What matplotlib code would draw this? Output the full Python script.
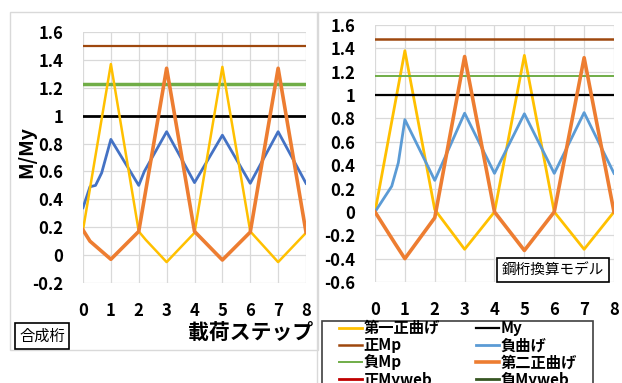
import matplotlib.pyplot as plt
from matplotlib.patches import Rectangle

plt.rcParams['font.family'] = ['Noto Sans CJK JP', 'DejaVu Sans']

# ---- data: left panel (合成桁) ----
steps = [0, 8]

L_y1_x = [0, 1, 2, 2.25, 3, 4, 5, 6, 7, 8]
L_y1 = [0.18, 1.37, 0.17, 0.11, -0.05, 0.16, 1.35, 0.17, -0.05, 0.16]      # 第一正曲げ
L_y2_x = [0, 0.25, 1, 2, 3, 4, 5, 6, 7, 8]
L_y2 = [0.18, 0.10, -0.03, 0.17, 1.34, 0.17, -0.035, 0.165, 1.34, 0.165]  # 第二正曲げ
L_neg_x = [0, 0.25, 0.45, 0.67, 1, 2, 2.2, 3, 4, 5, 6, 7, 8]
L_neg = [0.34, 0.49, 0.50, 0.59, 0.83, 0.50, 0.60, 0.885, 0.52, 0.86, 0.515, 0.885, 0.515]  # 負曲げ
L_My = [1.0, 1.0]
L_posMp = [1.5, 1.5]
L_negMp = [1.225, 1.225]

# ---- data: right panel (鋼桁換算モデル) ----
R_y1_x = [0, 1, 2, 3, 4, 5, 6, 7, 8]
R_y1 = [0, 1.38, 0.02, -0.32, 0, 1.34, 0, -0.32, 0]
R_y2_x = [0, 0.67, 1, 2, 3, 4, 5, 6, 7, 8]
R_y2 = [0, -0.27, -0.40, -0.05, 1.33, 0, -0.33, 0, 1.32, 0]
R_neg_x = [0, 0.56, 0.78, 1, 2, 3, 4, 5, 6, 7, 8]
R_neg = [0, 0.22, 0.42, 0.79, 0.27, 0.845, 0.33, 0.84, 0.33, 0.85, 0.33]
R_My = [1.0, 1.0]
R_posMp = [1.478, 1.478]
R_negMp = [1.164, 1.164]

xticks = list(range(0, 9))

C_Y1 = "#FFC000"
C_Y2 = "#ED7D31"
C_NEG_L = "#4472C4"
C_NEG_R = "#5B9BD5"
C_PMP = "#9E480E"
C_NMP = "#70AD47"
C_PWEB = "#C00000"
C_NWEB = "#375623"

W, H = 622, 383
fig = plt.figure(figsize=(W / 100, H / 100), dpi=100)


def px_axes(x0, x1, ytop, ybot):
    return fig.add_axes([x0 / W, 1 - ybot / H, (x1 - x0) / W, (ybot - ytop) / H])


def style(ax, ylim, yticks):
    ax.set_xlim(0, 8)
    ax.set_ylim(*ylim)
    ax.set_xticks(xticks)
    ax.set_yticks(yticks)
    ax.set_yticklabels([f"{t:g}" for t in yticks])
    ax.grid(True, color="#d9d9d9", lw=0.9)
    ax.set_axisbelow(True)
    for s in ax.spines.values():
        s.set_visible(False)
    ax.tick_params(length=0, labelsize=12)
    ax.tick_params(axis="x", pad=14)
    ax.tick_params(axis="y", pad=14)
    for lab in ax.get_xticklabels() + ax.get_yticklabels():
        lab.set_fontweight("bold")


# outer frames
fig.patches.append(Rectangle((10 / W, 1 - 350 / H), 308 / W, 338 / H, transform=fig.transFigure,
                             fill=False, edgecolor="#d9d9d9", lw=1))
fig.patches.append(Rectangle((317 / W, -0.05), 0.6, 1 - 12 / H + 0.05, transform=fig.transFigure,
                             fill=False, edgecolor="#d9d9d9", lw=1))

# ---- left ----
axL = px_axes(83, 306, 32, 283)
axL.plot(steps, L_posMp, color=C_PMP, lw=1.6)
axL.plot(steps, L_negMp, color=C_NMP, lw=2.5)
axL.plot(steps, L_My, color="black", lw=2)
axL.plot(L_neg_x, L_neg, color=C_NEG_L, lw=2)
axL.plot(L_y1_x, L_y1, color=C_Y1, lw=1.8)
axL.plot(L_y2_x, L_y2, color=C_Y2, lw=2.6)
style(axL, (-0.2, 1.6), [round(-0.2 + 0.2 * i, 1) for i in range(10)])
axL.set_ylabel("M/My", fontsize=14, fontweight="bold")
axL.yaxis.set_label_coords(-0.21, 0.52)
fig.text(313 / W, 1 - 332 / H, "載荷ステップ", fontsize=15, fontweight="bold",
         ha="right", va="center")
fig.text(42 / W, 1 - 336 / H, "合成桁", fontsize=11, ha="center", va="center",
         bbox=dict(boxstyle="square,pad=0.3", fc="white", ec="black", lw=1.2))

# ---- right ----
axR = px_axes(375, 614, 25, 282)
axR.plot(R_y1_x, R_y1, color=C_Y1, lw=2, label="第一正曲げ")
axR.plot(steps, R_posMp, color=C_PMP, lw=1.8, label="正Mp")
axR.plot(steps, R_negMp, color=C_NMP, lw=1.4, label="負Mp")
axR.plot([], [], color=C_PWEB, lw=2, label="正Myweb")
axR.plot(steps, R_My, color="black", lw=1.6, label="My")
axR.plot(R_neg_x, R_neg, color=C_NEG_R, lw=2, label="負曲げ")
axR.plot(R_y2_x, R_y2, color=C_Y2, lw=2.6, label="第二正曲げ")
axR.plot([], [], color=C_NWEB, lw=2, label="負Myweb")
style(axR, (-0.6, 1.6), [round(-0.6 + 0.2 * i, 1) for i in range(12)])
fig.text(553 / W, 1 - 270 / H, "鋼桁換算モデル", fontsize=10.5, ha="center", va="center",
         bbox=dict(boxstyle="square,pad=0.35", fc="white", ec="black", lw=1.2))

# legend (frame drawn separately)
fig.patches.append(Rectangle((322 / W, -0.05), 271 / W, 1 - 321 / H + 0.05, transform=fig.transFigure,
                             fill=False, edgecolor="#404040", lw=1.2))
handles, labels = axR.get_legend_handles_labels()
leg = fig.legend(handles, labels, ncol=2, loc="upper left",
                 bbox_to_anchor=(339 / W, 1 - 320 / H), frameon=False,
                 fontsize=11, handlelength=1.5, handletextpad=0.1,
                 labelspacing=0.08, columnspacing=2.4, borderpad=0.0, borderaxespad=0)
for t in leg.get_texts():
    t.set_fontweight("bold")

fig.savefig("out.png", dpi=100)
